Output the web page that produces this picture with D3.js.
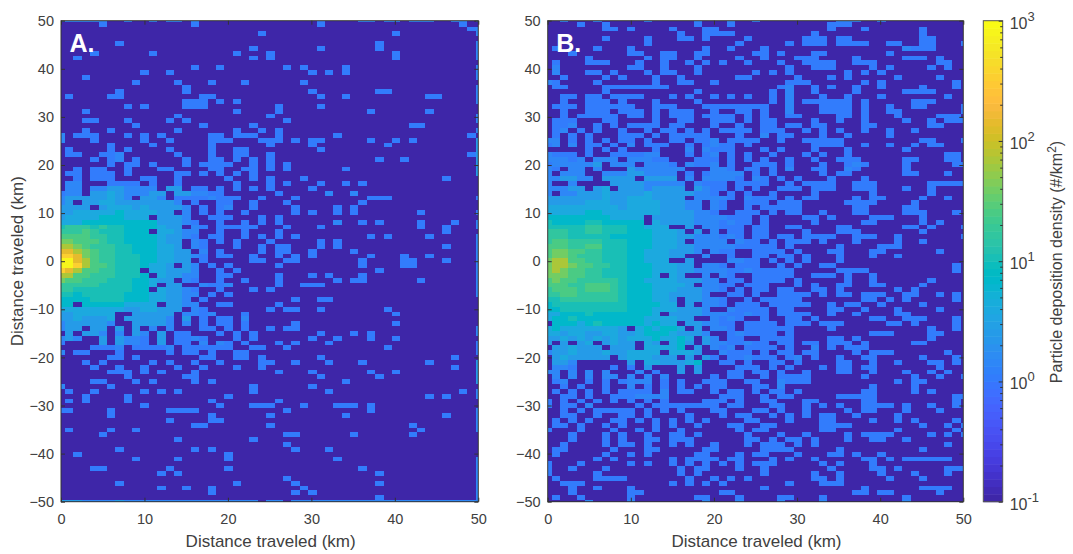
<!DOCTYPE html>
<html>
<head>
<meta charset="utf-8">
<script src="https://d3js.org/d3.v7.min.js"></script>
<style>
  html, body { margin: 0; background: #fff; }
  text { font-family: "Liberation Sans", Arial, sans-serif; fill: #404040; }
  .domain { stroke: #333; }
  .tick line { stroke: #333; }
  .panelBox { fill: none; stroke: #333; }
</style>
</head>
<body>
<svg id="chart" width="1073" height="554"></svg>
<script>
// Bin centres in km, top row first
const xBins = d3.range(0, 51);
const yBins = d3.range(50, -51, -1);
const xTicks = [0, 10, 20, 30, 40, 50];
const yTicks = [-50, -40, -30, -20, -10, 0, 10, 20, 30, 40, 50];
const colorTicks = [0.1, 1, 10, 100, 1000];
const colorExponents = ['-1', '0', '1', '2', '3'];
const axisLabel = 'Distance traveled (km)';

// Density (#/km2) that each character in the rows below stands for
const levelChars = '.123456789abcd';
const levelValues = [0.1, 1, 1.5, 2.5, 4, 6.5, 10, 16, 26, 42, 70, 150, 350, 800];

// One string per y bin, one character per x bin, grouped by ten for reading
const rowsA = [
  "222222..2. .2.22.2... .......... .1....22.2 2.222..22. 2",
  ".....1.... ......1... .......... .1........ ........1. .",
  ".......... .......... .......... .......... .........1 2",
  ".......... .......... ....1..... .......... 1......... 2",
  ".......... .......... .......... .......... .......... .",
  ".......1.. .......... .......... ........1. .......... 2",
  ".......... .......... ...1...... .1......1. .......... 2",
  "....1..... .1........ .1...1.... .......... 1......... 2",
  "..1....... .......... ...1.1.... .......... 1......... 2",
  ".......... .......... .......... .......... .......... .",
  ".......... ......1..1 .......1.1 ....1..... .......... 2",
  ".......... 1..1...... .......... 1.1.1..... .......... 2",
  "...1...... .......... .......... .......... .......... 2",
  ".........1 ....1...1. ..1......1 .......... .......... .",
  ".......... .....1.... .......... .......... .......... 2",
  ".......1.. .....1.... .......... 1.......11 .......... 2",
  ".1....11.. .......11. .......... .1..1..... ....11.... 2",
  ".......... .....111.1 .1........ .......... .......... 2",
  "........1. 1....111.. ......1... .1........ .......... .",
  "...1...... .......... .1....1... .......1.. ....1..... .",
  ".......... ....1..... .....1.... .......... .......... 2",
  "...11...1. ...1.1.... .......1.. .......... .......... 2",
  ".........1 .......1.. ...1...... .......... ..11...... .",
  "...1..1... ....1..... .1..1.1... .......... .......... 2",
  "2.111...1. 1.1.....11 .111..1... ...1...... .........1 .",
  "2...1..... 1..1....11 1...111.1. 11.....1.. 1.1....... 3",
  "......1... .1......1. .....1.... 1........1 .......... 3",
  ".1....1.1. ...1....1. .11....... .1........ .......... 3",
  ".11..112.. ....1...1. .11..1.... .......... .........1 3",
  "....1.12.1 .....1..11 .1.1.1.... ........1. .1........ 3",
  "......1.11 .1...1.111 1..1.1.1.. .......... .......... 3",
  "..1.11..1. ..11....11 ..11.1.1.. ....1..... .......... 3",
  ".11.111.1. ....11.1.1 .1.1...... .......... .......... 3",
  "..1.111... 11..1..... 1..1.1...1 .......... ......1... .",
  ".22...1111 .1..1..... .1...1.1.. .1..1.1... .......... .",
  ".22.223322 22.33.11.1 .1.1.1.... 1......... .......... .",
  "122.334322 233.332211 ......1... ..2..2.... .......... .",
  "233333432. 332.111121 11..1...1. .......111 .......... 1",
  "23.3344333 33332.1..1 1..1...1.. ......1... .......... .",
  "3333.34443 433332.1.1 2..1....1. ...1.1.... .......... .",
  "3344444544 4433.2.1.1 ..1.....1. 1..1.1.... ...1...... 1",
  "3444455544 4.3332..11 1...1.1... .......... .......... .",
  "4445555555 5533321..1 ..1.1.1... ...2..1.1. ...1...1.. 2",
  "6777676655 55433.21.1 1111...1.. .1........ ...1..1... 2",
  "7778766655 5.44322..1 ..1...1... .......... ......1... .",
  "8888776655 5543321.11 ..1.1.1.1. .......1.1 ....1..... 2",
  "9988876655 55433.21.1 .1...1.... .1.1...... .......... 2",
  "aa98777665 55443.21.. .1..1.11.. .1.1...... ......1... 2",
  "bba9877665 554433.2.1 ....1.11.. 1....1.... .......... 2",
  "ccb9877666 55443321.1 1..1..1.1. 1......1.. .1..1..... 2",
  "ddba877666 554433.1.. ...11..11. ......1... .11...1... 2",
  "ddca887666 5443.32.1. 1.....1... ......1... .11....... 2",
  "cba8877666 .443332..1 .1........ ........1. .......... 2",
  "aa88777666 5.43322..1 1.....1... 1.1...1... .......... 2",
  "9887776665 5433.21..1 ..1...1... ...1.11... ...1...... 2",
  "7777766665 54.33..211 2.....1..1 11........ .......... 2",
  "7766666665 5.43321..1 ...1.1.... .......... .......... 2",
  "6656666655 5443322.1. 1......... .......... .......... 2",
  "5555666655 544332.1.. ........1. .11....... .......... .",
  "55.5555544 44.3322..1 1.....1... .......... .......... .",
  "4444444433 44333.21.. .....1.11. .1.......1 .......... .",
  "3344444..3 3333.2212. ..1....... .......... 1......... .",
  "3343334.33 3332.3.1.1 1.2....... .......... .......... .",
  "2333332..3 3332.2.1.1 1.1.....1. .......... 1......... .",
  "233.33.3.3 .2.2...11. 1.1..1.11. .......... .......... 2",
  ".3.332.2.3 2.3.11...1 .1.1...... .1...1.1.. .......... 2",
  "232..3.322 1.3.1121.. .1.1...... 1..1...1.. 1......... .",
  "1....3.322 1.3.11.2.2 1.1...1.1. ..1....... .......... 1",
  "....1112.1 1112.11111 1..11..1.. .........1 .......... 1",
  "2.11...1.. ...1.11.1. .11....... .......... .......... 1",
  "......11.1 .......11. .11.1..... .1........ .......1.. .",
  "...1.1.... .1.1..1..1 ....11..1. ..1...1... ....1..... 3",
  "....1..1.. 1...1..1.. .1..1..... .......... .......1.. 3",
  "......111. 1.1...1... ......1... 1......1.. 1......... 3",
  "........1. .....11... .......... .1......1. .......... 3",
  "....11...1 .1....1.1. .......... ....1..... .......... 3",
  "2.....1... .......... ...1...... 1......... .......... .",
  ".1..1..... 1.1.1..... ...1...... ..1....... ........1. 2",
  "...1....1. .......... 1......... .......... ....1.1... 2",
  ".1.1....1. ........1. ......1... .......... .......... .",
  ".......... 1........1 ...111...1 ...111.1.. .......... .",
  "11....1... ...1111... .......1.. .......1.. .......... 2",
  "......1... ........1. .....1.... ....1..... ......1... 2",
  ".......... ...1....11 .......... .......... .......... 2",
  ".......... ......11.. .....1.... .......... ..1....... 2",
  ".1....1..1 .......... .......... .......... ...1...... 2",
  ".....1.... .......... .......11. .....1.... ..1....... .",
  ".......... ....1..... ...1...... .......... .......... .",
  ".......... .......... .......1.. .......... .......... .",
  ".......1.. ......1.1. ........1. ..1....... .......... .",
  "..1....... .......... 1......... .......... .......... .",
  ".........1 ....1..... 1......... ...1...... .......... 2",
  ".......... .......... .......... .......... .......... 2",
  "....11.... ...1...... 1......... ......1... .......... 2",
  ".......... ..1.1..... .......... ........1. .......... 2",
  ".......... .......... .......1.. .......... .......... 2",
  ".......1.. .......... .1......1. ........1. .......... 2",
  ".......... ..1..1..1. .........1 .......... .......... 2",
  ".......... ........1. ........1. 1......... .......... 2",
  ".......... .......... .......... ........1. .......... 2",
  "3332222322 2222222222 2222.22.22 2222222222 2222222222 2"
];

const rowsB = [
  "..2...2... ..2.....2. ..2..2.... .....222.. 2......... .",
  "....1..1.. ........1. ..1....... ....111... .......... .",
  ".......11. 1....1...1 1......... ....1...1. .....1.... .",
  ".......... ......1..1 111....... ..1....... .....1.... .",
  ".......1.. ..1...11.1 ....1..... .111.11... .....11... .",
  ".......... ..1....... ...1.....1 .111.1111. .11..11... 1",
  ".1....1... 1........1 ..1...1... .......... ...2111... .",
  "...1...... 11..11..11 .....11.1. ..11...... .1........ .",
  ".....1.... ..1.11..1. ...1..1... 111....1.. ...111.1.. .",
  ".1...111.. .1..1..1.1 .1..1...1. .1111..111 .......11. .",
  ".2........ 11..1...1. .........1 ..111....1 .1....1.1. .",
  ".2...11.1. ..1.11..1. .....1.1.1 ......1.1. 1......... .",
  "..1....1.1 ...1..1... ...11..... 1...1.1... ..1....1.. .",
  "21....1... ...1..11.. 1........1 11......1. 1........1 .",
  ".11....111 11111..... ........12 ..1.1..1.. 1....1...1 .",
  ".......1.. ........1. .......1.2 ..1....1.. ...1111... .",
  "..11.11.11 11...1.1.. 1.1.1..1.2 ...1..1... 1.......1. .",
  "..1..111.1 ...1....1. .......1.2 .111111.1. ....111... .",
  ".111.11111 1..111...1 1111111..2 ...1111.1. .1..11.... 1",
  "..1..111.1 11.1.111.. 1..11.1..2 ...1111.1. .11....... 1",
  "..1.11111. 11.1.111.1 111.1.1..1 1....11.1. ..1....111 .",
  ".111...11. ...1..11.. 111.1.11.. ..1..1..1. ...1..1.11 1",
  ".112..1.1. 1111.11... 1..1..11.1 1.11....11 ......11.. .",
  ".12.1.1..1 ..1.11.1.1 .1111.111. .1.1.1..1. .1..1..... .",
  ".1.1.1...1 11.1.11111 ...1..2.11 ...1..1... .1........ .",
  "22.1.1.1.1 1.1..11.11 2.1111..1. .11111.... .....11... 1",
  "12.2.11.1. 2.111..1.1 211.1..... ..1111..1. .1..1.11.. .",
  ".....1.1.1 ...1...2.2 111...1.1. ..1...1... ...1...... .",
  "2111.1..11 1122...1.1 2.1.1..1.. .1.1..1... ........11 .",
  "22212.222. 22211...11 1.1.1.1..1 ..1..111.. ...11...11 .",
  "1222223.22 2.2221.211 2.1..111.1 ...1..121. ...1.....1 1",
  "21.22.2... 3222222... 221.11.1.2 ..11..21.. ...1...... .",
  "2.222..222 332222.1.1 2222.1.1.. ...1.11... ...11...1. .",
  "223322.333 3.3333.2.2 2221.21.1. 1...1...1. .......... .",
  "2..2....33 3322222.21 11.1111..1 .1111..111 ......1111 1",
  "22233.34.3 3323333.32 11.1.1..11 1.111..111 ...1..1... .",
  "2.22333433 3343333322 1.1.1..1.. ..1......1 ......1... .",
  "3333333433 4443333.22 221.2111.1 .11....1.1 1....1..1. .",
  "3333344433 444433322. 21..111.11 1.....1111 ....1..... .",
  "4444444443 444433322. 21..1.1111 1......11. ...11..... .",
  "4444455444 4444333322 1..111.1.1 1..1...11. ...111...1 .",
  "5555555544 44.3333322 22111.1... .11.1....1 11...1.... .",
  "6555566555 55.4333322 21211.1... ..1.....11 .....1.1.. .",
  "6666677666 55444..3.2 2111.11..1 1....11... ...11.1... 1",
  "7776677666 5554443.3. 2.11.11... .1...111.. .....1.... .",
  "7776666655 5554443322 2121.11.11 .1111..111 ..1....... 1",
  "7887777666 5554443.22 22.211.1.1 11.1...1.. ..1..1.... .",
  "8887788666 5554443322 22211111.1 .....1.... 111....... .",
  "8998877666 554443332. 211..1111. 1...11...1 1......1.. .",
  "8998777666 5544433..2 ..1..11.11 .1...1...1 ..1....... .",
  "9aa8877666 55444..3.. ..2211.1.1 .1...1.... .......... .",
  "9aa9887766 55544433.2 21.111..1. 1..11..... .........1 .",
  "9a98877666 5554443322 2211211111 .....1111. .........1 .",
  "9998877666 5554.43..2 .21..11111 ..111.1..1 .......... .",
  "8988777776 5544443332 2.11.1111. 1.....1..1 ......1... .",
  "8887788876 55544443.2 211.111... 1.1..11..1 1....1.... .",
  "7888788876 5554443332 21.1.11.11 ..11.1.... ..1.1..... .",
  "7788777776 5554433332 ..11.1..11 11.1.11.11 1..11..1.1 .",
  "6677777776 555443.332 21..1.1111 1.......11 .1.1.....1 .",
  "5666666666 555544.3.2 21.111.111 11..1.11.. 1....1.... .",
  "5566666666 5554443332 ..21111.11 ....11..1. ..1....1.. .",
  "4455565555 5554.33332 2211211.11 11..1..1.. ..11...... .",
  "4556555555 55444433.. 2121..1..1 1.1......1 1..111...1 .",
  ".555456555 554544.332 211.1111.1 11.111.... .11.1....1 .",
  "4544444443 .454554.3. 221.111111 ....1..... ......1..1 .",
  "4434433443 3455543332 ..121111.1 .........1 11....11.. .",
  "3343434343 44454454.3 2.11..1111 ....11.1.. ......1... .",
  "3.3.34.343 3.43.453.3 2211211.11 .11.111.1. ....11.... .",
  ".334333.33 3.44445.3. 212.1111.1 ..2.1.111. .......... .",
  "2334333433 4444.4443. .2111.1.11 .11....1.1 11......1. .",
  ".3433333.3 444333.3.3 1.112111.1 2.1..1..11 .....1...1 .",
  ".332...... 3.4433345. .11.1..11. 1....11..1 ..1...11.1 .",
  ".221....1. 1.3...3.3. ...111.1.1 ...1.11.11 .......1.. .",
  "22.2.2.2.. .2.1..3.3. ..11.11.1. .1...11..1 ...1..1.1. .",
  ".2.2.2.22. 2.2.2..... 1.11..1.11 11......1. ....1..1.. 1",
  ".12..1.1.1 222.1.1..1 11..11..21 11........ ..1.11.... .",
  "..1.1..1.. 2.1.1.1.1. 11...11.2. .........1 ....1..... .",
  ".1.1.1.1.1 111.2.11.. 1.11.1.11. 1.......11 ....1.1... .",
  "..11.1..11 12222..... .111..1.11 .....11111 .........1 1",
  "1.1.1.1.1. 1.1.1....1 11.1..11.. .11.....11 .........1 .",
  "1.11.2.... .1.1111111 1.11...11. .1.1.1..11 11.1..1..1 .",
  "..1.1.1111 1.1.1.1... 11...11.1. .1....1.11 ...1...1.. .",
  "..11..1..1 1.1....1.. .1.11..1.1 .1.11..1.. ..1....... .",
  ".1.1.1..11 .1.1.1.1.1 ....11...1 ...11....1 ..1.1....1 .",
  ".11.1..1.1 ...1.1..1. ..11..11.. ...1111... .....1..1. 1",
  "1...1...1. .1.1..1... ...1.11... ...11..... ..1......1 .",
  "...1...1.1 ..1..11.1. ....1...1. .1....1.11 11....1.1. 1",
  "...1...1.1 ..11.111.. ....11.1.1 1.1...1..1 1..1...... .",
  "..1....1.1 1.1..1.1.. 1...1.111. 1.1....... ........1. .",
  ".11.....1. ..11.....1 1.....1111 .....1.... .....1.... .",
  ".1.....1.. 1.1.....11 ...1.11... 1...11.1.. 1......... .",
  "......1.1. .....1.111 1.11...1.1 ..1.....11 .1.111111. .",
  "1...1..... 1.1..1.1.1 .1.1.111.. ...1.1...1 .......... .",
  "1..1...1.. ......1.11 ...1..1... ....1....1 1.1.....11 1",
  "1.....1... ......1.1. ......1... ..1..1.... 1...1...1. .",
  ".1....1111 .......1.. 1.1.1..... ..11.1.... .1...1.... .",
  "..111..... .....1.1.1 .1.......1 ...111.... .......... .",
  "...1..1... 1......... ......1... ........1. .....1111. .",
  "...1...... 11........ .11....... .......11. 11.....1.. .",
  ".1..1..... 1.......11 ...1....11 ...1...... ...1...... .",
  ".....2.... 2........2 ...2....2. ...2...... ...2...... ."
];

// MATLAB parula, 64 steps
const parula = [
  [0.2422,0.1504,0.6603],[0.2504,0.1650,0.7076],[0.2578,0.1818,0.7511],[0.2647,0.1978,0.7952],
  [0.2706,0.2147,0.8364],[0.2751,0.2342,0.8710],[0.2783,0.2559,0.8991],[0.2803,0.2782,0.9221],
  [0.2813,0.3006,0.9414],[0.2810,0.3228,0.9579],[0.2795,0.3447,0.9717],[0.2760,0.3667,0.9829],
  [0.2699,0.3892,0.9906],[0.2602,0.4123,0.9952],[0.2440,0.4358,0.9988],[0.2206,0.4603,0.9973],
  [0.1963,0.4847,0.9892],[0.1834,0.5074,0.9798],[0.1786,0.5289,0.9682],[0.1764,0.5499,0.9520],
  [0.1687,0.5703,0.9359],[0.1540,0.5902,0.9218],[0.1460,0.6091,0.9079],[0.1380,0.6276,0.8973],
  [0.1248,0.6459,0.8883],[0.1113,0.6635,0.8763],[0.0952,0.6798,0.8598],[0.0689,0.6948,0.8394],
  [0.0297,0.7082,0.8163],[0.0036,0.7203,0.7917],[0.0067,0.7312,0.7660],[0.0433,0.7411,0.7394],
  [0.0964,0.7500,0.7120],[0.1408,0.7584,0.6842],[0.1717,0.7670,0.6554],[0.1938,0.7758,0.6251],
  [0.2161,0.7843,0.5923],[0.2470,0.7918,0.5567],[0.2906,0.7973,0.5188],[0.3406,0.8008,0.4789],
  [0.3909,0.8029,0.4354],[0.4456,0.8024,0.3909],[0.5044,0.7993,0.3480],[0.5616,0.7942,0.3045],
  [0.6174,0.7876,0.2612],[0.6720,0.7793,0.2227],[0.7242,0.7698,0.1910],[0.7738,0.7598,0.1646],
  [0.8203,0.7498,0.1535],[0.8634,0.7406,0.1596],[0.9035,0.7330,0.1774],[0.9393,0.7288,0.2100],
  [0.9728,0.7298,0.2394],[0.9956,0.7434,0.2371],[0.9970,0.7659,0.2199],[0.9952,0.7893,0.2028],
  [0.9892,0.8136,0.1885],[0.9786,0.8386,0.1766],[0.9676,0.8639,0.1643],[0.9610,0.8890,0.1537],
  [0.9597,0.9135,0.1423],[0.9628,0.9373,0.1265],[0.9691,0.9606,0.1064],[0.9769,0.9839,0.0805]
].map(c => d3.rgb(c[0] * 255, c[1] * 255, c[2] * 255).formatHex());

const svg = d3.select('#chart');
const top_ = 20.7, bottom = 501.7;
const tickFont = 14.5, labelFont = 17;

const logScale = d3.scaleLog().domain([0.1, 1000]).range([0, 1]);
const colorBins = d3.scaleQuantize().domain([0, 1]).range(parula);
const color = v => colorBins(logScale(v));

// Bins are a bit over 1 km, so the outer rows and columns are cut to thin strips
const binSize = 1.0045;
const xEdge = c => c === 0 ? 0 : Math.min(50, 0.48 + (c - 1) * binSize);
const yEdge = k => k === 0 ? 50 : Math.max(-50, 49.79 - (k - 1) * binSize);

function parseRows(rows) {
    let cells = [];
    rows.forEach((row, k) => {
        const chars = row.replace(/ /g, '');
        xBins.forEach((xb, c) => {
            const level = levelChars.indexOf(chars[c] || '.');
            cells.push({ c: c, k: k, x: xb, y: yBins[k], value: levelValues[level] });
        });
    });
    return cells;
}

function heatmap(rows, left, right, name, yLabel) {
    const x = d3.scaleLinear().domain([0, 50]).range([left, right]);
    const y = d3.scaleLinear().domain([-50, 50]).range([bottom, top_]);
    const g = svg.append('g');

    g.selectAll('rect.cell')
        .data(parseRows(rows))
        .join('rect')
        .attr('class', 'cell')
        .attr('x', d => x(xEdge(d.c)))
        .attr('y', d => y(yEdge(d.k)))
        .attr('width', d => x(xEdge(d.c + 1)) - x(xEdge(d.c)))
        .attr('height', d => y(yEdge(d.k + 1)) - y(yEdge(d.k)))
        .attr('fill', d => color(d.value))
        .attr('shape-rendering', 'crispEdges');

    // MATLAB style box, ticks point inward on all four sides
    g.append('rect').attr('class', 'panelBox')
        .attr('x', left).attr('y', top_)
        .attr('width', right - left).attr('height', bottom - top_);

    const xAxis = g.append('g')
        .attr('transform', 'translate(0,' + bottom + ')')
        .call(d3.axisBottom(x).tickValues(xTicks).tickSize(-4).tickPadding(12));
    xAxis.selectAll('text').style('font-size', tickFont + 'px');
    g.append('g')
        .attr('transform', 'translate(0,' + top_ + ')')
        .call(d3.axisTop(x).tickValues(xTicks).tickSize(-4).tickFormat(''));

    const yAxis = g.append('g')
        .attr('transform', 'translate(' + left + ',0)')
        .call(d3.axisLeft(y).tickValues(yTicks).tickSize(-4).tickPadding(7));
    yAxis.selectAll('text').style('font-size', tickFont + 'px');
    g.append('g')
        .attr('transform', 'translate(' + right + ',0)')
        .call(d3.axisRight(y).tickValues(yTicks).tickSize(-4).tickFormat(''));
    g.selectAll('.domain').remove();

    g.append('text')
        .attr('x', (left + right) / 2 + 1)
        .attr('y', 547)
        .attr('text-anchor', 'middle')
        .style('font-size', labelFont + 'px')
        .text(axisLabel);

    if (yLabel) {
        g.append('text')
            .attr('transform', 'translate(23,' + (top_ + bottom) / 2 + ') rotate(-90)')
            .attr('text-anchor', 'middle')
            .style('font-size', labelFont + 'px')
            .text(axisLabel);
    }

    g.append('text')
        .attr('x', left + 8.5)
        .attr('y', 52)
        .style('font-size', '25px')
        .style('font-weight', 'bold')
        .style('fill', '#fff')
        .text(name);
}

function colorbar(left, right) {
    const y = d3.scaleLog().domain([0.1, 1000]).range([bottom, top_]);
    const g = svg.append('g');

    g.selectAll('rect')
        .data(parula)
        .join('rect')
        .attr('x', left)
        .attr('width', right - left)
        .attr('y', (d, i) => y(Math.pow(10, -1 + 4 * (i + 1) / parula.length)))
        .attr('height', (bottom - top_) / parula.length + 0.5)
        .attr('fill', d => d);

    g.append('rect').attr('class', 'panelBox')
        .attr('x', left).attr('y', top_)
        .attr('width', right - left).attr('height', bottom - top_)
        .style('stroke', '#555');

    // Minor log ticks on the right edge
    const minor = [];
    colorTicks.slice(0, -1).forEach(t => d3.range(2, 10).forEach(m => minor.push(t * m)));
    g.append('g')
        .attr('transform', 'translate(' + right + ',0)')
        .call(d3.axisRight(y).tickValues(minor).tickSize(-2.5).tickFormat(''));
    g.append('g')
        .attr('transform', 'translate(' + right + ',0)')
        .call(d3.axisRight(y).tickValues(colorTicks).tickSize(-4).tickFormat(''));
    g.selectAll('.domain').remove();

    const labels = g.selectAll('text.colorTick')
        .data(colorTicks)
        .join('text')
        .attr('class', 'colorTick')
        .attr('x', right + 7)
        .attr('y', d => y(d) + 8)
        .style('font-size', '16px');
    labels.append('tspan').text('10');
    labels.append('tspan')
        .attr('dy', -8)
        .style('font-size', '13px')
        .text((d, i) => colorExponents[i]);

    const label = g.append('text')
        .attr('transform', 'translate(1062,262) rotate(-90)')
        .attr('text-anchor', 'middle')
        .style('font-size', '16px');
    label.append('tspan').text('Particle deposition density (#/km');
    label.append('tspan').attr('dy', -6).style('font-size', '12px').text('2');
    label.append('tspan').attr('dy', 6).text(')');
}

heatmap(rowsA, 61, 478.3, 'A.', true);
heatmap(rowsB, 547.7, 963.3, 'B.', false);
colorbar(983.3, 1002.7);
</script>
</body>
</html>
